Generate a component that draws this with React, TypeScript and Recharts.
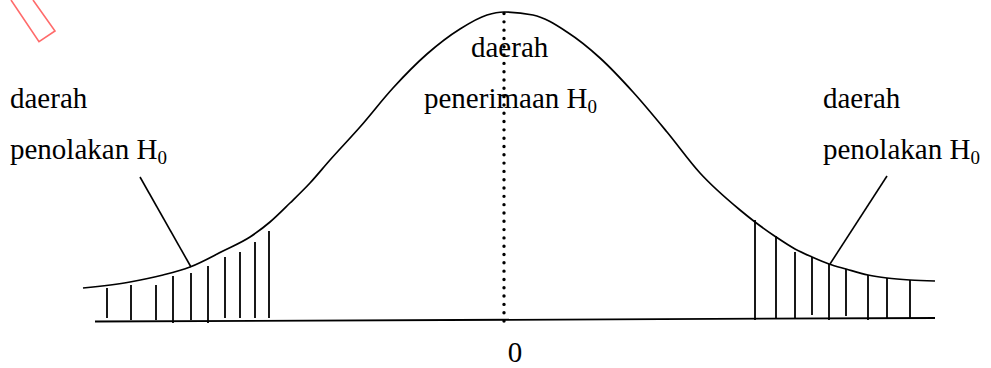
import React from "react";
import { ComposedChart, Line, Scatter, XAxis, YAxis, ReferenceLine } from "recharts";

// bell curve outline (x in z-units, y = height above the baseline)
const bellX = [-4.21, -3.74, -3.41, -3.14, -2.81, -2.54, -2.34, -2.14, -1.94, -1.74, -1.44, -1.11, -0.77, -0.44, -0.17, 0, 0.29, 0.63, 0.96, 1.29, 1.63, 1.96, 2.36, 2.51, 2.72, 2.91, 3.08, 3.25, 3.42, 3.64, 3.83, 4.06, 4.31];
const bellY = [0.33, 0.39, 0.46, 0.54, 0.7, 0.84, 0.99, 1.18, 1.38, 1.61, 1.94, 2.33, 2.67, 2.92, 3.06, 3.09, 3.06, 2.89, 2.63, 2.29, 1.89, 1.48, 1.11, 0.99, 0.84, 0.72, 0.64, 0.57, 0.52, 0.46, 0.43, 0.41, 0.4];

// hand-drawn hatching in the two rejection tails
const leftHatchX = [-3.97, -3.73, -3.48, -3.31, -3.13, -2.96, -2.79, -2.64, -2.49, -2.35];
const leftHatchTop = [0.33, 0.36, 0.36, 0.45, 0.48, 0.55, 0.64, 0.69, 0.79, 0.9];
const leftHatchBottom = [0.03, 0.01, 0.01, -0.02, 0.01, -0.02, 0.03, 0.03, 0.03, 0.03];
const rightHatchX = [2.51, 2.72, 2.91, 3.08, 3.25, 3.42, 3.64, 3.83, 4.06];
const rightHatchTop = [1.01, 0.85, 0.69, 0.64, 0.57, 0.52, 0.46, 0.43, 0.41];
const rightHatchBottom = [0.01, 0.03, 0.03, 0.06, 0.01, 0.05, 0.01, 0.03, 0.03];

const baseX = [-4.09, 4.31];
const baseY = [-0.005, 0.03];
const peakY = 3.09;

// pointer lines from the tail labels down to the shaded areas
const leftPointer = [{ x: -3.64, y: 1.44 }, { x: -3.13, y: 0.54 }];
const rightPointer = [{ x: 3.26, y: 0.57 }, { x: 3.83, y: 1.45 }];

// outline of the red callout shape in the corner
const calloutX = [-4.93, -4.65, -4.49, -4.71];
const calloutY = [3.21, 2.793, 2.9, 3.21];

const labelTexts = ["daerah", "penolakan H", "daerah", "penerimaan H", "daerah", "penolakan H"];
const labelSubs = ["", "0", "", "0", "", "0"];
const labelAnchorX = [-4.94, -4.94, -0.33, -0.8, 3.19, 3.19];
const labelAnchorY = [2.13, 1.62, 2.64, 2.13, 2.13, 1.62];

const xTicks = [0];

const bellData = bellX.map((x, i) => ({ x, y: bellY[i] }));
const baseData = baseX.map((x, i) => ({ x, y: baseY[i] }));
const calloutData = calloutX.map((x, i) => ({ x, y: calloutY[i] }));
const labelData = labelTexts.map((text, i) => ({ x: labelAnchorX[i], y: labelAnchorY[i], text, sub: labelSubs[i] }));

const font = "'Liberation Serif', 'Times New Roman', serif";

const renderLabel = (props: any) => {
  const { cx, cy, payload } = props;
  return (
    <text x={cx} y={cy} fontFamily={font} fontSize={29} fill="#000">
      {payload.text}
      {payload.sub ? (
        <tspan dy={5} fontSize={19}>
          {payload.sub}
        </tspan>
      ) : null}
    </text>
  );
};

export default function App() {
  return (
    <div style={{ position: "absolute", left: 0, top: 0, background: "#fff" }}>
      <ComposedChart width={991} height={368} margin={{ top: 0, right: 0, bottom: 0, left: 0 }}>
        <XAxis
          type="number"
          dataKey="x"
          domain={[-5.04, 4.87]}
          allowDataOverflow
          ticks={xTicks}
          height={38}
          axisLine={false}
          tickLine={false}
          tickMargin={5}
          tick={{ fontSize: 29, fill: "#000", fontFamily: font, dx: 11 }}
        />
        <YAxis type="number" dataKey="y" domain={[-0.09, 3.21]} allowDataOverflow hide />

        {leftHatchX.map((x, i) => (
          <ReferenceLine key={`l${i}`} segment={[{ x, y: leftHatchBottom[i] }, { x, y: leftHatchTop[i] }]} stroke="#000" strokeWidth={1.8} ifOverflow="visible" />
        ))}
        {rightHatchX.map((x, i) => (
          <ReferenceLine key={`r${i}`} segment={[{ x, y: rightHatchBottom[i] }, { x, y: rightHatchTop[i] }]} stroke="#000" strokeWidth={1.8} ifOverflow="visible" />
        ))}
        <ReferenceLine segment={leftPointer} stroke="#000" strokeWidth={1.6} ifOverflow="visible" />
        <ReferenceLine segment={rightPointer} stroke="#000" strokeWidth={1.6} ifOverflow="visible" />
        <ReferenceLine
          segment={[{ x: 0, y: 0 }, { x: 0, y: peakY }]}
          stroke="#000"
          strokeWidth={3.4}
          strokeDasharray="0.01 8.3"
          strokeLinecap="round"
          ifOverflow="visible"
        />

        <Line data={baseData} dataKey="y" type="linear" stroke="#000" strokeWidth={1.8} dot={false} activeDot={false} isAnimationActive={false} />
        <Line data={bellData} dataKey="y" type="monotone" stroke="#000" strokeWidth={1.7} dot={false} activeDot={false} isAnimationActive={false} />
        <Line data={calloutData} dataKey="y" type="linear" stroke="#ff6b6b" strokeWidth={1.6} dot={false} activeDot={false} isAnimationActive={false} />
        <Scatter data={labelData} dataKey="y" shape={renderLabel} isAnimationActive={false} />
      </ComposedChart>
    </div>
  );
}
